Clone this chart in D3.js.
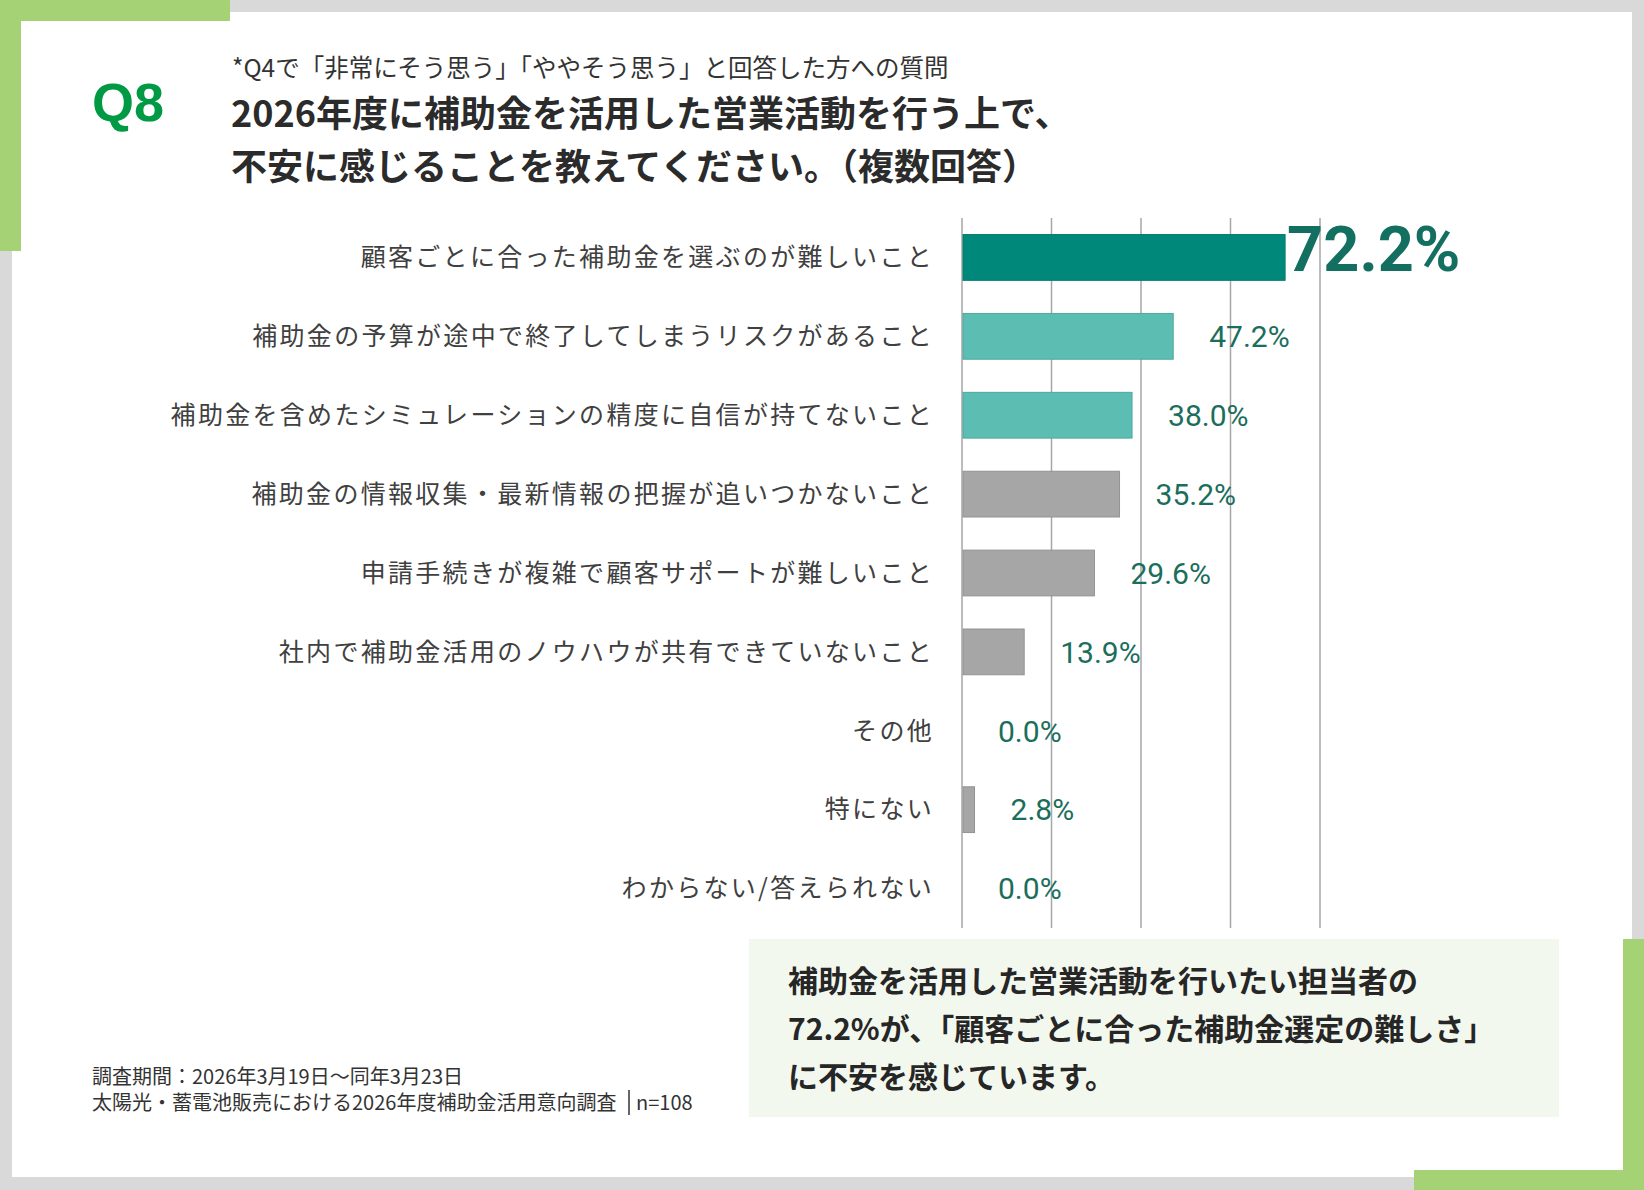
<!DOCTYPE html>
<html lang="ja">
<head>
<meta charset="utf-8">
<title>Q8</title>
<script src="https://cdn.jsdelivr.net/npm/d3@7.9.0/dist/d3.min.js"></script>
<style>
  body { margin: 0; background: #d9d9d9; }
  svg { display: block; }
</style>
</head>
<body>
<svg id="chart"></svg>
<script>
// Data
const categories = [
    "顧客ごとに合った補助金を選ぶのが難しいこと",
    "補助金の予算が途中で終了してしまうリスクがあること",
    "補助金を含めたシミュレーションの精度に自信が持てないこと",
    "補助金の情報収集・最新情報の把握が追いつかないこと",
    "申請手続きが複雑で顧客サポートが難しいこと",
    "社内で補助金活用のノウハウが共有できていないこと",
    "その他",
    "特にない",
    "わからない/答えられない"
];
const values = [72.2, 47.2, 38.0, 35.2, 29.6, 13.9, 0.0, 2.8, 0.0];
const gridTicks = [0, 20, 40, 60, 80];

const subtitle = "*Q4で「非常にそう思う」「ややそう思う」と回答した方への質問";
const titleLines = [
    "2026年度に補助金を活用した営業活動を行う上で、",
    "不安に感じることを教えてください。（複数回答）"
];
const calloutLines = [
    "補助金を活用した営業活動を行いたい担当者の",
    "72.2%が、「顧客ごとに合った補助金選定の難しさ」",
    "に不安を感じています。"
];
const footLines = [
    "調査期間：2026年3月19日～同年3月23日",
    "太陽光・蓄電池販売における2026年度補助金活用意向調査"
];
const sampleNote = "n=108";

const W = 1644, H = 1190;
const jp = "'Noto Sans CJK JP', 'Noto Sans', sans-serif";

const svg = d3.select("#chart")
    .attr("width", W)
    .attr("height", H);

// Page frame
svg.append("rect")
    .attr("width", W).attr("height", H)
    .attr("fill", "#d9d9d9");

svg.append("rect")
    .attr("x", 12).attr("y", 12)
    .attr("width", 1620).attr("height", 1165)
    .attr("fill", "#ffffff");

// Green corner accents
const green = "#a5d274";
svg.append("rect").attr("x", 0).attr("y", 0).attr("width", 230).attr("height", 21).attr("fill", green);
svg.append("rect").attr("x", 0).attr("y", 0).attr("width", 21).attr("height", 251).attr("fill", green);
svg.append("rect").attr("x", 1414).attr("y", 1170).attr("width", 230).attr("height", 20).attr("fill", green);
svg.append("rect").attr("x", 1623).attr("y", 939).attr("width", 21).attr("height", 251).attr("fill", green);

// Header
svg.append("text")
    .attr("x", 92).attr("y", 121)
    .style("font-family", "'Liberation Sans', Arial, sans-serif")
    .style("font-weight", "bold")
    .style("font-size", "54px")
    .attr("fill", "#009944")
    .text("Q8");

svg.append("text")
    .attr("x", 232).attr("y", 77)
    .style("font-family", jp)
    .style("font-size", "24.5px")
    .attr("fill", "#333333")
    .text(subtitle);

svg.selectAll("text.title")
    .data(titleLines)
    .enter()
    .append("text")
    .attr("class", "title")
    .attr("x", 231)
    .attr("y", (d, i) => 127 + i * 53)
    .style("font-family", jp)
    .style("font-weight", "bold")
    .style("font-size", "36px")
    .attr("fill", "#2b2b2b")
    .text(d => d);

// Scales
const x = d3.scaleLinear()
    .domain([0, 80])
    .range([962, 1320]);

const y = d3.scaleBand()
    .domain(categories)
    .range([218, 928])
    .paddingInner(0.42)
    .paddingOuter(0.21);

// Gridlines
svg.append("g")
    .selectAll("line")
    .data(gridTicks)
    .enter()
    .append("line")
    .attr("x1", d => x(d)).attr("x2", d => x(d))
    .attr("y1", 218).attr("y2", 928)
    .attr("stroke", "#a6a6a6")
    .attr("stroke-width", 1.5);

// Bars
function barFill(i) {
    if (i === 0) return "#00897b";
    if (i < 3) return "#5cbdb3";
    return "#a6a6a6";
}
function barStroke(i) {
    if (i === 0) return "#007a6c";
    if (i < 3) return "#4fa89f";
    return "#939393";
}

svg.append("g")
    .selectAll("rect")
    .data(values)
    .enter()
    .append("rect")
    .attr("x", x(0) + 1)
    .attr("y", (d, i) => y(categories[i]))
    .attr("width", d => Math.max(0, x(d) - x(0) - 1))
    .attr("height", y.bandwidth())
    .attr("fill", (d, i) => barFill(i))
    .attr("stroke", (d, i) => d > 0 ? barStroke(i) : "none")
    .attr("stroke-width", 1);

// Category labels
svg.append("g")
    .selectAll("text")
    .data(categories)
    .enter()
    .append("text")
    .attr("x", 934)
    .attr("y", d => y(d) + y.bandwidth() / 2)
    .attr("dy", "0.35em")
    .attr("text-anchor", "end")
    .style("font-family", jp)
    .style("font-size", "25px")
    .style("letter-spacing", "2.3px")
    .attr("fill", "#404040")
    .text(d => d);

// Value labels
const maxVal = d3.max(values);
svg.append("g")
    .selectAll("text")
    .data(values)
    .enter()
    .append("text")
    .attr("x", d => d === maxVal ? x(d) + 2 : x(d) + 36)
    .attr("y", (d, i) => y(categories[i]) + y.bandwidth() / 2 + (d === maxVal ? -9 : 0))
    .attr("dy", "0.36em")
    .style("font-family", "Roboto, 'Noto Sans', sans-serif")
    .style("font-weight", d => d === maxVal ? "bold" : "normal")
    .style("font-size", d => d === maxVal ? "63px" : "30px")
    .attr("fill", d => d === maxVal ? "#137060" : "#1b6e5c")
    .text(d => d.toFixed(1) + "%");

// Callout box
svg.append("rect")
    .attr("x", 749).attr("y", 939)
    .attr("width", 810).attr("height", 178)
    .attr("fill", "#f3f8ee");

svg.selectAll("text.callout")
    .data(calloutLines)
    .enter()
    .append("text")
    .attr("class", "callout")
    .attr("x", 788)
    .attr("y", (d, i) => 992 + i * 48)
    .style("font-family", jp)
    .style("font-weight", "bold")
    .style("font-size", "30px")
    .attr("fill", "#262626")
    .text(d => d);

// Footnote
svg.selectAll("text.foot")
    .data(footLines)
    .enter()
    .append("text")
    .attr("class", "foot")
    .attr("x", 92)
    .attr("y", (d, i) => 1084 + i * 26)
    .style("font-family", jp)
    .style("font-size", "20px")
    .attr("fill", "#333333")
    .text(d => d);

svg.append("line")
    .attr("x1", 629).attr("x2", 629)
    .attr("y1", 1090).attr("y2", 1115)
    .attr("stroke", "#333333")
    .attr("stroke-width", 1.5);

svg.append("text")
    .attr("x", 636).attr("y", 1110)
    .style("font-family", jp)
    .style("font-size", "20px")
    .attr("fill", "#333333")
    .text(sampleNote);
</script>
</body>
</html>
